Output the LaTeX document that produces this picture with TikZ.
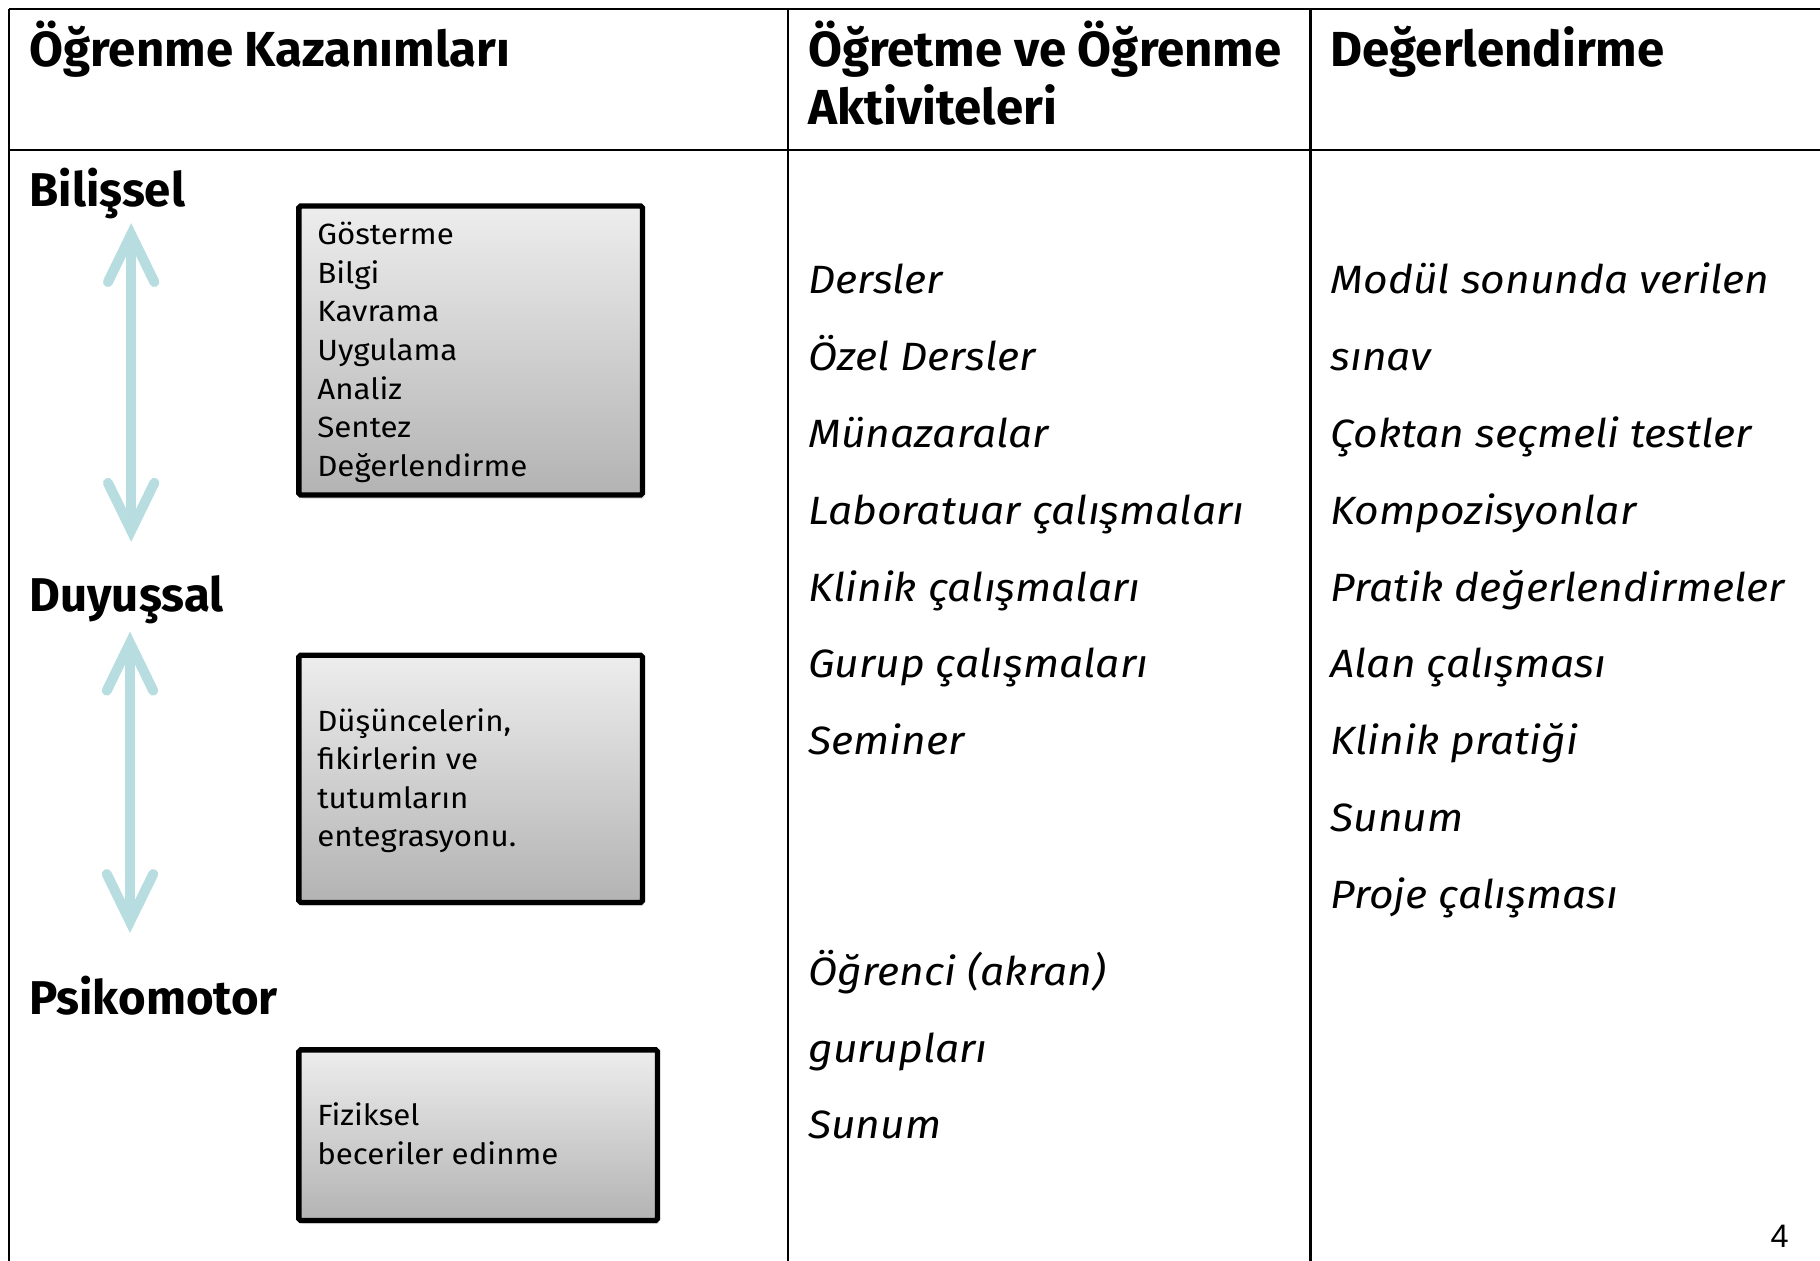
\documentclass[tikz,border=0pt]{standalone}
\usepackage{fontspec}
\setmainfont{Fira Sans}
\newfontfamily\itemfont[FakeStretch=1.08]{Fira Sans}
\newfontfamily\boxfont[FakeStretch=1.07]{Fira Sans}
\newfontfamily\pgnumfont{Liberation Sans}
\usetikzlibrary{shadows}
\definecolor{arrowblue}{HTML}{B7DDE0}
\definecolor{boxtop}{HTML}{EDEDED}
\definecolor{boxbot}{HTML}{B3B3B3}
\tikzset{
  tbl/.style={line width=1pt, black},
  hdr/.style={anchor=base west, inner sep=0pt, font=\bfseries\fontsize{21.2}{24}\selectfont},
  cat/.style={anchor=base west, inner sep=0pt, font=\bfseries\fontsize{20.4}{24}\selectfont},
  item/.style={anchor=base west, inner sep=0pt, font=\itemfont\itshape\fontsize{17}{20}\selectfont},
  boxtxt/.style={anchor=base west, inner sep=0pt, font=\boxfont\fontsize{12.6}{16.6}\selectfont},
  gbox/.style={draw=black, line width=2.3pt, rounded corners=0.8pt, top color=boxtop, bottom color=boxbot,
    inner sep=0pt, drop shadow={opacity=0.22, shadow xshift=0.8pt, shadow yshift=-1.6pt}},
  arr/.style={draw=arrowblue, line width=4.3pt},
  chev/.style={draw=arrowblue, line width=4.3pt, line cap=round, line join=miter},
}
\begin{document}
\begin{tikzpicture}[x=0.5pt,y=-0.5pt]
\useasboundingbox (0,0) rectangle (1568,1086);
\fill[white] (0,0) rectangle (1568,1086);
% table grid
\draw[tbl] (8,8) -- (1568,8);
\draw[tbl] (8,129) -- (1568,129);
\draw[tbl] (8,8) -- (8,1086);
\draw[tbl] (679,8) -- (679,1086);
\draw[tbl] (1129,8) -- (1129,1086);
% headers
\node[hdr] (h1) at (25,57) {Öğrenme Kazanımları};
\node[hdr] (h2a) at (696,57) {Öğretme ve Öğrenme};
\node[hdr] (h2b) at (696,107) {Aktiviteleri};
\node[hdr] (h3) at (1146,57) {Değerlendirme};
% categories
\node[cat] (c1) at (25,178) {Bilişsel};
\node[cat] (c2) at (25,527) {Duyuşsal};
\node[cat] (c3) at (25,874) {Psikomotor};
% boxes
\node[gbox, minimum width=148pt, minimum height=124.5pt] (b1) at (405.5,302) {};
\node[gbox, minimum width=148pt, minimum height=106.5pt] (b2) at (405.5,671) {};
\node[gbox, minimum width=154.5pt, minimum height=73.5pt] (b3) at (412,978) {};
\node[boxtxt] (t1) at (273,211) {\parbox[t]{140pt}{\raggedright Gösterme\\Bilgi\\Kavrama\\Uygulama\\Analiz\\Sentez\\Değerlendirme}};
\node[boxtxt] (t2) at (273,630) {\parbox[t]{140pt}{\raggedright Düşüncelerin,\\fikirlerin ve\\tutumların\\entegrasyonu.}};
\node[boxtxt] (t3) at (273,970) {\parbox[t]{140pt}{\raggedright Fiziksel\\beceriler edinme}};
% arrows
\coordinate (a1t) at (113,202);
\coordinate (a1b) at (113,457);
\coordinate (a2t) at (112,554);
\coordinate (a2b) at (112,794);
\draw[arr] (a1t) -- (a1b);
\draw[chev] ([shift={(-20,41)}]a1t) -- (a1t) -- ([shift={(20,41)}]a1t);
\draw[chev] ([shift={(-20,-41)}]a1b) -- (a1b) -- ([shift={(20,-41)}]a1b);
\draw[arr] (a2t) -- (a2b);
\draw[chev] ([shift={(-20,41)}]a2t) -- (a2t) -- ([shift={(20,41)}]a2t);
\draw[chev] ([shift={(-20,-41)}]a2b) -- (a2b) -- ([shift={(20,-41)}]a2b);
% column 2 items
\node[item] (m1) at (696,253) {Dersler};
\node[item] (m2) at (696,319.2) {Özel Dersler};
\node[item] (m3) at (696,385.4) {Münazaralar};
\node[item] (m4) at (696,451.6) {Laboratuar çalışmaları};
\node[item] (m5) at (696,517.8) {Klinik çalışmaları};
\node[item] (m6) at (696,584) {Gurup çalışmaları};
\node[item] (m7) at (696,650.2) {Seminer};
\node[item] (m8) at (696,848.8) {Öğrenci (akran)};
\node[item] (m9) at (696,915) {gurupları};
\node[item] (m10) at (696,981.2) {Sunum};
% column 3 items
\node[item] (d1) at (1146,253) {Modül sonunda verilen};
\node[item] (d2) at (1146,319.2) {sınav};
\node[item] (d3) at (1146,385.4) {Çoktan seçmeli testler};
\node[item] (d4) at (1146,451.6) {Kompozisyonlar};
\node[item] (d5) at (1146,517.8) {Pratik değerlendirmeler};
\node[item] (d6) at (1146,584) {Alan çalışması};
\node[item] (d7) at (1146,650.2) {Klinik pratiği};
\node[item] (d8) at (1146,716.4) {Sunum};
\node[item] (d9) at (1146,782.6) {Proje çalışması};
% page number
\node[anchor=base west, inner sep=0pt, font=\pgnumfont\fontsize{14}{14}\selectfont] (pg) at (1525,1075) {4};
\end{tikzpicture}
\end{document}
